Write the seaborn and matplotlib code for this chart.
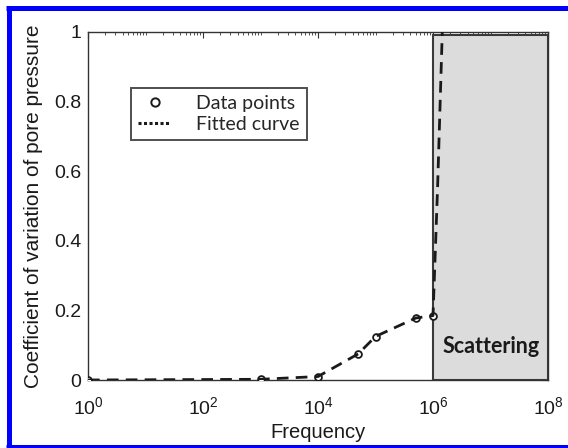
import numpy as np
import pandas as pd
import matplotlib
matplotlib.use("Agg")
import matplotlib.pyplot as plt
from matplotlib.lines import Line2D
from matplotlib.ticker import LogLocator, FixedLocator, NullFormatter
import seaborn as sns

# Measured coefficient of variation of pore pressure vs. frequency
freq_points = [1e0, 1e3, 1e4, 5e4, 1e5, 5e5, 1e6]
cov_points = [0.0, 0.002, 0.010, 0.075, 0.125, 0.178, 0.185]

# Fitted curve (steep rise beyond 1 MHz)
freq_fit = [1e0, 1e3, 1e4, 5e4, 1e5, 5e5, 1e6, 1.2e6, 1.45e6]
cov_fit = [0.0, 0.002, 0.010, 0.075, 0.125, 0.178, 0.185, 0.55, 1.0]

# Scattering regime
scatter_lo, scatter_hi = 1e6, 1e8
scatter_top = 0.99

x_ticks = [1e0, 1e2, 1e4, 1e6, 1e8]
x_tick_labels = [r"$10^{0}$", r"$10^{2}$", r"$10^{4}$", r"$10^{6}$", r"$10^{8}$"]
y_ticks = [0, 0.2, 0.4, 0.6, 0.8, 1.0]
y_tick_labels = ["0", "0.2", "0.4", "0.6", "0.8", "1"]

sns.set_theme(style="white")
plt.rcParams["font.family"] = ["Liberation Sans", "DejaVu Sans"]
plt.rcParams["mathtext.default"] = "regular"

fig = plt.figure(figsize=(5.68, 4.48), dpi=100)
ax = fig.add_axes([88 / 568, 68 / 448, 460 / 568, 348 / 448])

pts = pd.DataFrame({"Frequency": freq_points, "cov": cov_points})
fit = pd.DataFrame({"Frequency": freq_fit, "cov": cov_fit})

ax.axvspan(scatter_lo, scatter_hi, ymin=0, ymax=scatter_top,
           facecolor="#dcdcdc", edgecolor="#3a3a3a", linewidth=1.5, zorder=1)

sns.scatterplot(data=pts, x="Frequency", y="cov", ax=ax, s=24,
                facecolor="white", edgecolor="#1a1a1a", linewidth=1.3,
                marker="o", zorder=3)
sns.lineplot(data=fit, x="Frequency", y="cov", ax=ax, color="#1a1a1a",
             linewidth=2.0, dashes=False, zorder=4, sort=False)
ax.lines[-1].set_dashes((4.2, 2.6))

ax.set_xscale("log")
ax.set_xlim(1e0, 1e8)
ax.set_ylim(0, 1)
ax.xaxis.set_major_locator(FixedLocator(x_ticks))
ax.set_xticklabels(x_tick_labels)
ax.xaxis.set_minor_locator(LogLocator(base=10, subs=np.arange(1, 10), numticks=100))
ax.xaxis.set_minor_formatter(NullFormatter())
ax.set_yticks(y_ticks)
ax.set_yticklabels(y_tick_labels)

ax.tick_params(which="both", direction="in", top=True, right=True,
               color="#333333", labelsize=14, labelcolor="#1a1a1a")
ax.tick_params(which="major", length=4, width=0.8)
ax.tick_params(which="minor", length=2, width=0.6)
ax.tick_params(axis="x", pad=12)
ax.tick_params(axis="y", pad=5)

for s in ax.spines.values():
    s.set_color("#333333")
    s.set_linewidth(1.0)

ax.set_xlabel("Frequency", fontsize=14.5, color="#1a1a1a", labelpad=3)
ax.set_ylabel("Coefficient of variation of pore pressure", fontsize=15,
              color="#1a1a1a", labelpad=8)

ax.text(7.2e7, 0.095, "Scattering", family="Lato", fontweight="bold",
        fontsize=15.5, ha="right", va="center", color="#1a1a1a", zorder=5)

handles = [
    Line2D([], [], linestyle="none", marker="o", markersize=6,
           markerfacecolor="white", markeredgecolor="#1a1a1a", markeredgewidth=1.4),
    Line2D([], [], linestyle=(0, (1.0, 0.8)), color="#1a1a1a", linewidth=2.2),
]
leg = ax.legend(handles, ["Data points", "Fitted curve"], loc="upper left",
                bbox_to_anchor=(0.094, 0.838), frameon=True, fancybox=False,
                prop={"family": "Lato", "size": 14}, handlelength=1.7,
                handletextpad=1.3, borderpad=0.35, labelspacing=0.2,
                borderaxespad=0)
leg.get_frame().set_edgecolor("#222222")
leg.get_frame().set_linewidth(1.4)

# blue border around the figure
W, H = 568, 448
blue = "#0000ff"
fig.add_artist(Line2D([8.5 / W, 8.5 / W], [0, 1 - 6 / H], transform=fig.transFigure,
                      color=blue, linewidth=5 * 72 / 100, solid_capstyle="butt"))
fig.add_artist(Line2D([6 / W, 1], [1 - 8.5 / H, 1 - 8.5 / H], transform=fig.transFigure,
                      color=blue, linewidth=5 * 72 / 100, solid_capstyle="butt"))
fig.add_artist(Line2D([6 / W, 1], [2 / H, 2 / H], transform=fig.transFigure,
                      color=blue, linewidth=3 * 72 / 100, solid_capstyle="butt"))

fig.savefig("out.png", dpi=100)
